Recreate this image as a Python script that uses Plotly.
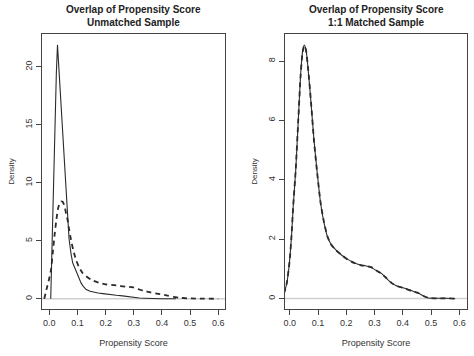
import plotly.graph_objects as go

# ---- data ----
unm_solid_x = [0.005, 0.010, 0.015, 0.020, 0.025, 0.029, 0.035, 0.040, 0.045, 0.054, 0.060, 0.065,
               0.070, 0.077, 0.083, 0.090, 0.095, 0.100, 0.106, 0.113, 0.120, 0.131, 0.145, 0.160,
               0.173, 0.190, 0.202, 0.220, 0.238, 0.260, 0.280, 0.298, 0.320, 0.340, 0.357, 0.380,
               0.400, 0.450]
unm_solid_y = [0.0, 5.5, 11.1, 15.5, 19.5, 21.9, 19.5, 17.0, 14.8, 11.1, 8.6, 6.8,
               5.2, 3.9, 3.1, 2.7, 2.4, 2.0, 1.7, 1.35, 1.1, 0.8, 0.65, 0.55,
               0.5, 0.45, 0.4, 0.38, 0.3, 0.25, 0.17, 0.11, 0.07, 0.05, 0.03, 0.02,
               0.01, 0.0]

unm_dash_x = [-0.018, -0.010, 0.000, 0.006, 0.012, 0.018, 0.024, 0.030, 0.036, 0.042, 0.048, 0.055,
              0.060, 0.065, 0.071, 0.077, 0.085, 0.095, 0.105, 0.119, 0.131, 0.149, 0.175, 0.200,
              0.238, 0.270, 0.298, 0.320, 0.333, 0.360, 0.393, 0.420, 0.440, 0.460, 0.490, 0.520,
              0.550, 0.600]
unm_dash_y = [0.0, 0.8, 1.8, 2.5, 3.9, 5.37, 6.6, 7.67, 8.2, 8.39, 8.35, 7.9,
              7.3, 6.8, 5.9, 5.09, 4.2, 3.36, 2.75, 2.2, 1.95, 1.64, 1.4, 1.25,
              1.15, 1.05, 0.98, 0.8, 0.7, 0.55, 0.4, 0.27, 0.17, 0.1, 0.04, 0.02,
              0.01, 0.0]

mat_x = [-0.021, -0.015, -0.010, -0.004, 0.000, 0.006, 0.012, 0.021, 0.030, 0.038, 0.045, 0.051,
         0.057, 0.065, 0.075, 0.085, 0.096, 0.109, 0.120, 0.133, 0.145, 0.163, 0.185, 0.205,
         0.230, 0.252, 0.270, 0.288, 0.305, 0.324, 0.340, 0.360, 0.380, 0.407, 0.430, 0.455,
         0.475, 0.490, 0.520, 0.550, 0.585]
mat_solid_y = [0.18, 0.35, 0.55, 0.97, 1.35, 2.09, 3.1, 4.33, 6.0, 7.5, 8.3, 8.54,
               8.4, 7.7, 6.6, 5.4, 4.33, 3.21, 2.6, 2.09, 1.85, 1.64, 1.45, 1.32,
               1.2, 1.13, 1.1, 1.05, 0.95, 0.85, 0.7, 0.52, 0.42, 0.35, 0.27, 0.18,
               0.08, 0.02, 0.01, 0.01, 0.0]
mat_dash_y = [0.17, 0.34, 0.56, 0.98, 1.33, 2.1, 3.12, 4.35, 6.02, 7.48, 8.28, 8.52,
              8.38, 7.72, 6.62, 5.38, 4.31, 3.22, 2.62, 2.1, 1.84, 1.63, 1.46, 1.31,
              1.19, 1.12, 1.1, 1.06, 0.96, 0.84, 0.71, 0.53, 0.42, 0.34, 0.26, 0.19,
              0.08, 0.03, 0.01, 0.01, 0.0]

titles = [["Overlap of Propensity Score", "Unmatched Sample"],
          ["Overlap of Propensity Score", "1:1 Matched Sample"]]
x_ticks = [0.0, 0.1, 0.2, 0.3, 0.4, 0.5, 0.6]
x_tick_text = ["0.0", "0.1", "0.2", "0.3", "0.4", "0.5", "0.6"]
left_y_ticks = [0, 5, 10, 15, 20]
right_y_ticks = [0, 2, 4, 6, 8]

FONT = "Liberation Sans, Arial, sans-serif"
LINE = "#2b2b2b"
AX = "#444444"

fig = go.Figure()

# zero reference lines
for xa, ya, xr in [("x", "y", [-0.026, 0.624]), ("x2", "y2", [-0.017, 0.627])]:
    fig.add_trace(go.Scatter(x=xr, y=[0, 0], mode="lines", xaxis=xa, yaxis=ya,
                             line=dict(color="#cfcfcf", width=1.5), showlegend=False,
                             hoverinfo="skip"))

fig.add_trace(go.Scatter(x=unm_dash_x, y=unm_dash_y, mode="lines", xaxis="x", yaxis="y",
                         line=dict(color=LINE, width=1.8, dash="5px,4px", shape="spline", smoothing=0.5),
                         showlegend=False))
fig.add_trace(go.Scatter(x=unm_solid_x, y=unm_solid_y, mode="lines", xaxis="x", yaxis="y",
                         line=dict(color=LINE, width=1.1), showlegend=False))
fig.add_trace(go.Scatter(x=mat_x, y=mat_solid_y, mode="lines", xaxis="x2", yaxis="y2",
                         line=dict(color=LINE, width=1.1, shape="spline", smoothing=0.6),
                         showlegend=False))
fig.add_trace(go.Scatter(x=mat_x, y=mat_dash_y, mode="lines", xaxis="x2", yaxis="y2",
                         line=dict(color=LINE, width=1.8, dash="5px,4px", shape="spline", smoothing=0.6),
                         showlegend=False))

common_x = dict(tickvals=x_ticks, ticktext=x_tick_text, ticks="outside", ticklen=5,
                tickcolor=AX, showline=True, linecolor=AX, linewidth=1, mirror=True,
                showgrid=False, zeroline=False,
                tickfont=dict(family=FONT, size=9, color="#333"),
                title=dict(text="Propensity Score", font=dict(family=FONT, size=9, color="#333"),
                           standoff=12))
common_y = dict(ticks="outside", ticklen=5, tickcolor=AX, showline=True, linecolor=AX,
                linewidth=1, mirror=True, showgrid=False, zeroline=False, tickangle=-90,
                tickfont=dict(family=FONT, size=9, color="#333"),
                title=dict(text="Density", font=dict(family=FONT, size=8, color="#333"),
                           standoff=8))

fig.update_layout(
    width=474, height=356,
    margin=dict(l=0, r=0, t=0, b=0),
    paper_bgcolor="white", plot_bgcolor="white",
    xaxis=dict(domain=[42 / 474, 225 / 474], range=[-0.026, 0.624], anchor="y", **common_x),
    yaxis=dict(domain=[1 - 309 / 356, 1 - 34 / 356], range=[-0.88, 22.84], anchor="x",
               tickvals=left_y_ticks, **common_y),
    xaxis2=dict(domain=[285 / 474, 467 / 474], range=[-0.017, 0.627], anchor="y2", **common_x),
    yaxis2=dict(domain=[1 - 309 / 356, 1 - 34 / 356], range=[-0.35, 8.91], anchor="x2",
                tickvals=right_y_ticks, **common_y),
)

centers = [(42 + 225) / 2 / 474, (285 + 467) / 2 / 474]
for c, t in zip(centers, titles):
    fig.add_annotation(x=c, y=1 - 10 / 356, xref="paper", yref="paper", showarrow=False,
                       text="<b>" + t[0] + "</b>", font=dict(family=FONT, size=10, color="#222"),
                       xanchor="center", yanchor="middle")
    fig.add_annotation(x=c, y=1 - 22 / 356, xref="paper", yref="paper", showarrow=False,
                       text="<b>" + t[1] + "</b>", font=dict(family=FONT, size=10, color="#222"),
                       xanchor="center", yanchor="middle")

fig.write_html("out.html", config={"displayModeBar": False},
               post_script="document.body.style.margin='0';")
